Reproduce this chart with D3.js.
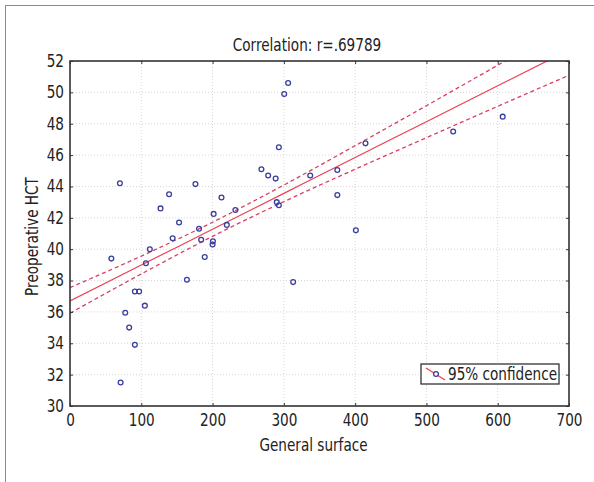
<!DOCTYPE html>
<html>
<head>
<meta charset="utf-8">
<script src="https://cdn.jsdelivr.net/npm/d3@7"></script>
<style>
  body { margin: 0; background: #fff; }
  text { font-family: "DejaVu Sans", sans-serif; fill: #222; }
</style>
</head>
<body>
<div id="chart"></div>
<script>
// scatter points: general surface vs preoperative HCT
var surface = [58, 70, 71, 77.5, 83, 91, 91, 97, 105, 106.5, 112, 127, 139, 144, 153, 164, 176, 181, 184, 189,
               200, 200.5, 201.5, 212.5, 220, 232, 268.5, 278, 288.5, 290, 293, 293, 300.5, 306, 313, 337,
               375, 375, 401, 414.5, 537.5, 607];
var hct = [39.4, 44.2, 31.5, 35.95, 35.0, 33.9, 37.3, 37.3, 36.4, 39.1, 40.0, 42.6, 43.5, 40.7, 41.7, 38.05, 44.15, 41.3, 40.6, 39.5,
           40.3, 40.5, 42.25, 43.3, 41.55, 42.5, 45.1, 44.7, 44.5, 43.0, 42.8, 46.5, 49.9, 50.6, 37.9, 44.7,
           45.05, 43.45, 41.2, 46.75, 47.5, 48.45];

// regression line and 95% confidence band, read at these x positions
var bandX = [0, 100, 200, 300, 400, 500, 600, 700];
var fitY = [36.70, 38.99, 41.27, 43.56, 45.85, 48.13, 50.42, 52.70];
var upperY = [37.55, 39.56, 41.72, 44.09, 46.60, 49.15, 51.73, 54.31];
var lowerY = [35.92, 38.42, 40.82, 43.03, 45.10, 47.11, 49.11, 51.09];

var xTicks = [0, 100, 200, 300, 400, 500, 600, 700];
var yTicks = [30, 32, 34, 36, 38, 40, 42, 44, 46, 48, 50, 52];

var margin = {top: 61, right: 25, bottom: 76, left: 70},
    width = 594 - margin.left - margin.right,
    height = 482 - margin.top - margin.bottom;

var x = d3.scaleLinear().domain([0, 700]).range([0, width]);
var y = d3.scaleLinear().domain([30, 52]).range([height, 0]);

var svg = d3.select("#chart").append("svg")
    .attr("width", 594)
    .attr("height", 482);

// outer frame (runs off the page on the right and bottom)
svg.append("rect")
    .attr("x", 5.5).attr("y", 5.5)
    .attr("width", 620).attr("height", 520)
    .attr("fill", "none")
    .attr("stroke", "#8a8a8a")
    .attr("stroke-width", 1);

var g = svg.append("g")
    .attr("transform", "translate(" + margin.left + "," + margin.top + ")");

g.append("clipPath").attr("id", "plotclip")
  .append("rect").attr("width", width).attr("height", height);

// grid
g.append("g").selectAll("line").data(xTicks.slice(1, -1)).enter().append("line")
    .attr("x1", function(d) { return x(d); }).attr("x2", function(d) { return x(d); })
    .attr("y1", 0).attr("y2", height)
    .attr("stroke", "#d6d6d6").attr("stroke-dasharray", "1,2");
g.append("g").selectAll("line").data(yTicks.slice(1, -1)).enter().append("line")
    .attr("y1", function(d) { return y(d); }).attr("y2", function(d) { return y(d); })
    .attr("x1", 0).attr("x2", width)
    .attr("stroke", "#d6d6d6").attr("stroke-dasharray", "1,2");

// band + fit lines
var band = bandX.map(function(d, i) { return {x: d, fit: fitY[i], up: upperY[i], lo: lowerY[i]}; });
var mk = function(key) {
  return d3.line().curve(d3.curveMonotoneX)
    .x(function(d) { return x(d.x); })
    .y(function(d) { return y(d[key]); });
};
var lines = g.append("g").attr("clip-path", "url(#plotclip)");
lines.append("path").datum(band).attr("d", mk("up"))
    .attr("fill", "none").attr("stroke", "#d9405e").attr("stroke-width", 1.3).attr("stroke-dasharray", "4,3");
lines.append("path").datum(band).attr("d", mk("lo"))
    .attr("fill", "none").attr("stroke", "#d9405e").attr("stroke-width", 1.3).attr("stroke-dasharray", "4,3");
lines.append("path").datum(band).attr("d", mk("fit"))
    .attr("fill", "none").attr("stroke", "#ec3f52").attr("stroke-width", 1.2);

// points
g.append("g").selectAll("circle").data(surface).enter().append("circle")
    .attr("cx", function(d) { return x(d); })
    .attr("cy", function(d, i) { return y(hct[i]); })
    .attr("r", 2.4)
    .attr("fill", "none")
    .attr("stroke", "#3b3f9c")
    .attr("stroke-width", 1.3);

// axes: ticks inside, on all four sides
var axStyle = function(sel) {
  sel.select(".domain").remove();
  sel.selectAll(".tick line").attr("stroke", "#333");
  sel.selectAll("text").style("font-size", "17px").attr("fill", "#222");
};
g.append("g").attr("transform", "translate(0," + height + ")")
    .call(d3.axisBottom(x).tickValues(xTicks).tickSizeInner(-3).tickSizeOuter(0).tickPadding(8))
    .call(axStyle)
    .selectAll("text").attr("dy", "0.72em");
g.append("g")
    .call(d3.axisLeft(y).tickValues(yTicks).tickSizeInner(-3).tickSizeOuter(0).tickPadding(6))
    .call(axStyle);
g.append("g")
    .call(d3.axisTop(x).tickValues(xTicks).tickSizeInner(-3).tickSizeOuter(0).tickFormat(""))
    .call(axStyle);
g.append("g").attr("transform", "translate(" + width + ",0)")
    .call(d3.axisRight(y).tickValues(yTicks).tickSizeInner(-3).tickSizeOuter(0).tickFormat(""))
    .call(axStyle);

g.append("rect")
    .attr("width", width).attr("height", height)
    .attr("fill", "none").attr("stroke", "#333").attr("stroke-width", 1.6);

// titles
svg.append("text")
    .attr("x", 307).attr("y", 51)
    .attr("text-anchor", "middle")
    .style("font-size", "17px")
    .text("Correlation: r=.69789");
svg.append("text")
    .attr("x", margin.left + width / 2 - 6).attr("y", 451)
    .attr("text-anchor", "middle")
    .style("font-size", "17px")
    .text("General surface");
svg.append("text")
    .attr("transform", "translate(38," + (margin.top + height / 2 + 3) + ") rotate(-90)")
    .attr("text-anchor", "middle")
    .style("font-size", "17px")
    .text("Preoperative HCT");

// legend
var lg = svg.append("g").attr("transform", "translate(421,364)");
lg.append("rect").attr("width", 138).attr("height", 20)
    .attr("fill", "#fff").attr("stroke", "#222").attr("stroke-width", 1.2);
lg.append("line").attr("x1", 5).attr("y1", 4).attr("x2", 24).attr("y2", 16)
    .attr("stroke", "#ec3f52").attr("stroke-width", 1.2);
lg.append("circle").attr("cx", 15).attr("cy", 10).attr("r", 2.4)
    .attr("fill", "#fff").attr("stroke", "#3b3f9c").attr("stroke-width", 1.3);
lg.append("text").attr("x", 27).attr("y", 16)
    .style("font-size", "17px")
    .text("95% confidence");

// the original uses a condensed face: squeeze every label horizontally
svg.selectAll("text").each(function() {
  var w = this.getComputedTextLength();
  if (w > 0) d3.select(this).attr("textLength", w * 0.8).attr("lengthAdjust", "spacingAndGlyphs");
});
</script>
</body>
</html>
